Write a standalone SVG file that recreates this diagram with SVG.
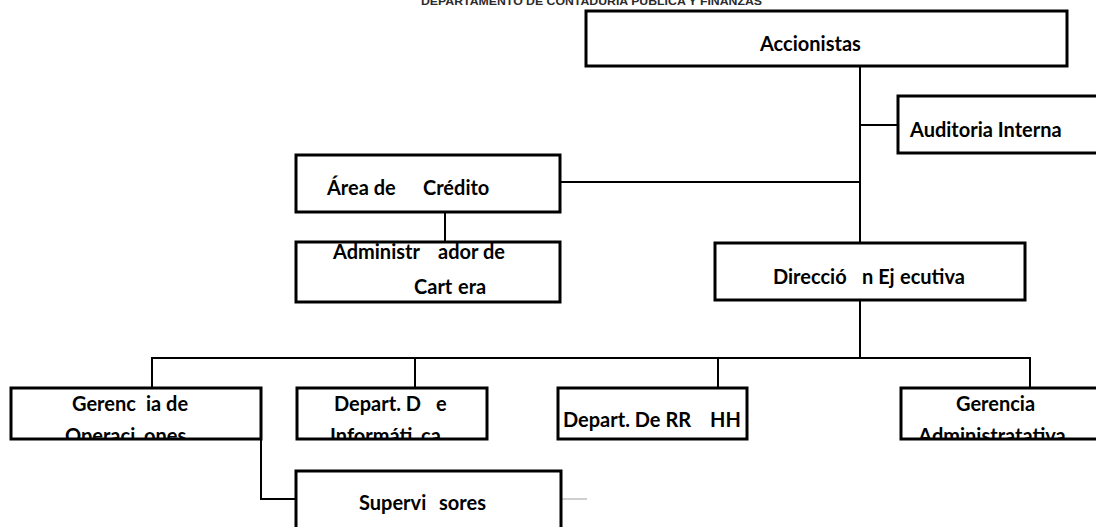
<svg xmlns="http://www.w3.org/2000/svg" width="1096" height="527" viewBox="0 0 1096 527">
<style>
.box{fill:#fff;stroke:#000;stroke-width:3}
.ln{fill:none;stroke:#000;stroke-width:2}
.t{font-family:"Lato","Liberation Sans",sans-serif;font-weight:bold;font-size:20px;fill:#000}
.c{text-anchor:middle}
.hdr{font-family:"Liberation Sans",sans-serif;font-weight:bold;font-size:10px;fill:#2a2a2a;font-variant:small-caps}
</style>
<defs>
<clipPath id="clipBottom"><rect x="0" y="0" width="1096" height="439"/></clipPath>
</defs>
<rect width="1096" height="527" fill="#fff"/>
<text class="hdr" x="421" y="5" textLength="341" lengthAdjust="spacingAndGlyphs">DEPARTAMENTO DE CONTADURÍA PÚBLICA Y FINANZAS</text>
<g id="connectors">
<line class="ln" x1="860" y1="66" x2="860" y2="242"/>
<line class="ln" x1="860" y1="125" x2="898" y2="125"/>
<line class="ln" x1="560" y1="182" x2="860" y2="182"/>
<line class="ln" x1="445" y1="212" x2="445" y2="242"/>
<line class="ln" x1="860" y1="300" x2="860" y2="358"/>
<polyline class="ln" points="152,388 152,358 1030,358 1030,388"/>
<line class="ln" x1="415" y1="358" x2="415" y2="388"/>
<line class="ln" x1="718" y1="358" x2="718" y2="388"/>
<polyline class="ln" points="261,439 261,499 296,499"/>
<line x1="561" y1="499" x2="587" y2="499" stroke="#cfcfcf" stroke-width="2"/>
</g>
<g id="accionistas">
<rect class="box" x="586" y="11" width="481" height="55"/>
<text class="t" x="760" y="51">Accionistas</text>
</g>
<g id="auditoria">
<rect class="box" x="898" y="96" width="205" height="57"/>
<text class="t" x="910" y="137">Auditoria Interna</text>
</g>
<g id="credito">
<rect class="box" x="296" y="155" width="264" height="57"/>
<text class="t" y="195"><tspan x="327">Área de</tspan><tspan x="423">Crédito</tspan></text>
</g>
<g id="administrador">
<rect class="box" x="296" y="242" width="264" height="60"/>
<text class="t" y="259"><tspan x="333">Administr</tspan><tspan x="438">ador de</tspan></text>
<text class="t" y="294"><tspan x="414">Cart</tspan><tspan x="458">era</tspan></text>
</g>
<g id="direccion">
<rect class="box" x="715" y="243" width="310" height="57"/>
<text class="t" y="284"><tspan x="773">Direcció</tspan><tspan x="862">n Ej</tspan><tspan x="900">ecutiva</tspan></text>
</g>
<g id="operaciones">
<rect class="box" x="11" y="388" width="250" height="51"/>
<g clip-path="url(#clipBottom)">
<text class="t" y="411"><tspan x="72">Gerenc</tspan><tspan x="146">ia de</tspan></text>
<text class="t" y="443"><tspan x="65">Operaci</tspan><tspan x="144">ones</tspan></text>
</g>
</g>
<g id="informatica">
<rect class="box" x="297" y="388" width="190" height="51"/>
<g clip-path="url(#clipBottom)">
<text class="t" y="411"><tspan x="334">Depart. D</tspan><tspan x="436">e</tspan></text>
<text class="t" y="443"><tspan x="330">Informáti</tspan><tspan x="421">ca</tspan></text>
</g>
</g>
<g id="rrhh">
<rect class="box" x="558" y="388" width="189" height="51"/>
<text class="t" y="427"><tspan x="563">Depart. De RR</tspan><tspan x="710">HH</tspan></text>
</g>
<g id="administrativa">
<rect class="box" x="901" y="388" width="205" height="51"/>
<g clip-path="url(#clipBottom)">
<text class="t" x="956" y="411">Gerencia</text>
<text class="t c" x="992" y="443">Administratativa</text>
</g>
</g>
<g id="supervisores">
<rect class="box" x="296" y="471" width="265" height="70"/>
<text class="t" y="510"><tspan x="359">Supervi</tspan><tspan x="439">sores</tspan></text>
</g>
</svg>
